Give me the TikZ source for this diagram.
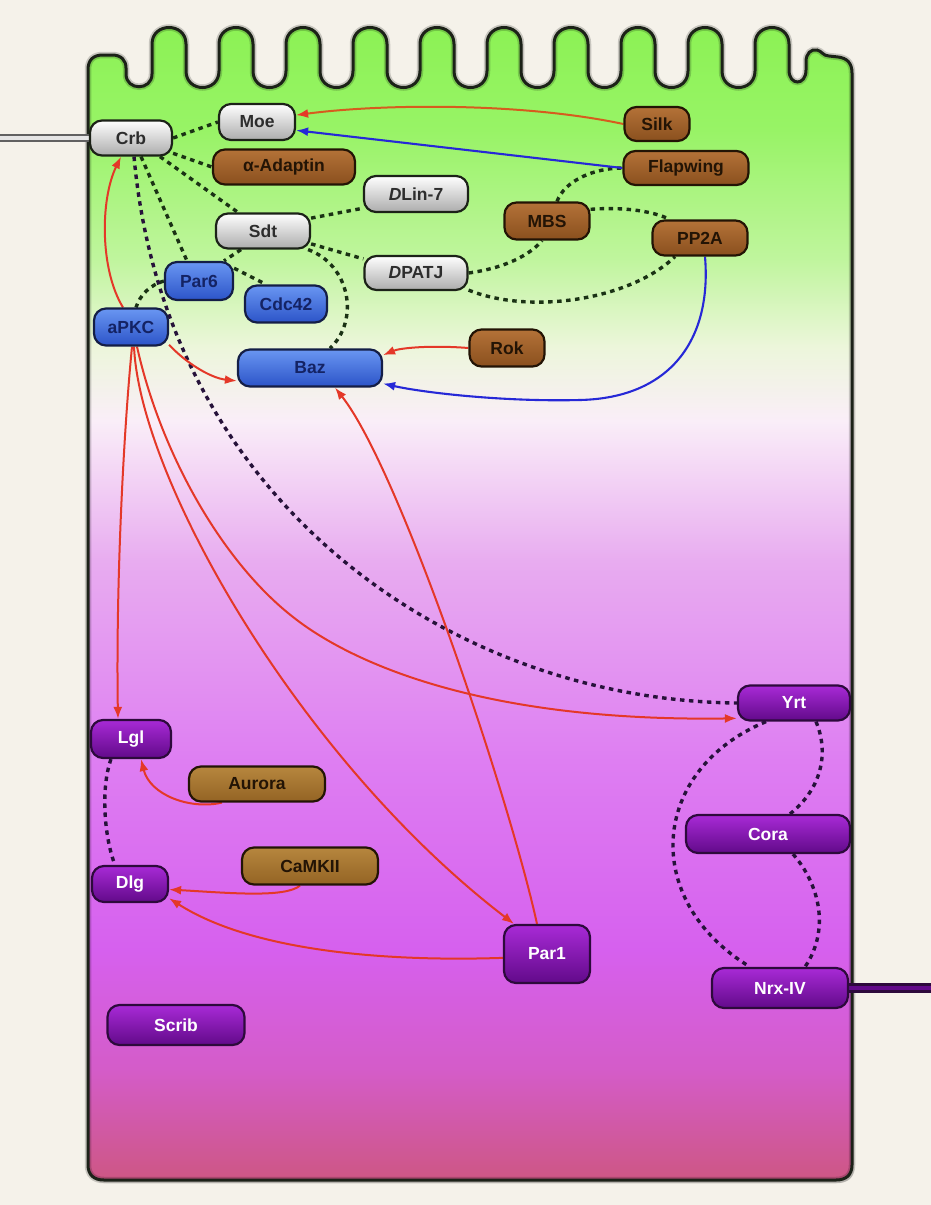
\documentclass[tikz,border=0pt]{standalone}
\usepackage{fontspec}
\setmainfont{Liberation Sans}
\usetikzlibrary{arrows.meta}
\pgfdeclarelayer{cell}
\pgfdeclarelayer{edges}
\pgfsetlayers{cell,edges,main}
\definecolor{bgc}{RGB}{245,242,234}
\definecolor{dg}{RGB}{26,50,20}
\definecolor{dp}{RGB}{38,18,58}
\definecolor{redc}{RGB}{228,56,40}
\definecolor{orc}{RGB}{214,92,30}
\definecolor{bluec}{RGB}{38,40,215}
\definecolor{outl}{RGB}{28,34,24}
\definecolor{wtop}{RGB}{255,255,255}
\definecolor{wbot}{RGB}{172,172,172}
\definecolor{wtxt}{RGB}{45,45,45}
\definecolor{brtop}{RGB}{180,114,56}
\definecolor{brbot}{RGB}{138,80,30}
\definecolor{brtxt}{RGB}{35,20,5}
\definecolor{gotop}{RGB}{182,134,62}
\definecolor{gobot}{RGB}{148,100,36}
\definecolor{bltop}{RGB}{105,150,242}
\definecolor{blbot}{RGB}{44,84,200}
\definecolor{bltxt}{RGB}{20,35,100}
\definecolor{bldraw}{RGB}{20,30,70}
\definecolor{putop}{RGB}{168,42,214}
\definecolor{pubot}{RGB}{98,10,138}
\definecolor{pudraw}{RGB}{45,10,60}
\definecolor{c1}{RGB}{138,242,82}
\definecolor{c2}{RGB}{152,243,102}
\definecolor{c3}{RGB}{192,245,158}
\definecolor{c4}{RGB}{236,246,218}
\definecolor{c5}{RGB}{250,238,248}
\definecolor{c6}{RGB}{232,172,240}
\definecolor{c7}{RGB}{222,126,242}
\definecolor{c8}{RGB}{214,96,238}
\definecolor{c9}{RGB}{212,92,200}
\definecolor{c10}{RGB}{205,86,126}
\newcommand\mycellpath{(88,1165) -- (88,70) .. controls (88,60) and (93,55) .. (103,55) -- (112,55) .. controls (121,55) and (126,60) .. (126,68) -- (126,74) .. controls (126,91) and (152,91) .. (152,74)
 \foreach \k in {0,...,8}{ -- ({152+67*\k},44) .. controls ({152+67*\k},22) and ({186+67*\k},22) .. ({186+67*\k},44) -- ({186+67*\k},71) .. controls ({186+67*\k},93) and ({219+67*\k},93) .. ({219+67*\k},71) }
 -- (755,44) .. controls (755,22) and (789,22) .. (789,44) -- (789,70) .. controls (789,86) and (806,86) .. (806,70) -- (806,62) .. controls (806,53) and (811,49) .. (817,50) .. controls (822,51) and (823,56) .. (829,56) -- (838,57) .. controls (847,58) and (852,63) .. (852,73) -- (852,1165) .. controls (852,1175) and (846,1180) .. (836,1180) -- (104,1180) .. controls (94,1180) and (88,1175) .. (88,1165) -- cycle}
\tikzset{
 prot/.style={rounded corners=12pt, line width=2.2pt, inner sep=0pt, font=\fontsize{17.5}{19}\selectfont\bfseries},
 wnode/.style={prot, draw=outl, top color=wtop, bottom color=wbot, text=wtxt},
 brnode/.style={prot, draw=brtxt, top color=brtop, bottom color=brbot, text=brtxt},
 gonode/.style={prot, draw=brtxt, top color=gotop, bottom color=gobot, text=brtxt},
 blnode/.style={prot, draw=bldraw, top color=bltop, bottom color=blbot, text=bltxt},
 punode/.style={prot, draw=pudraw, top color=putop, bottom color=pubot, text=white},
 dsh/.style={line width=3.4pt, dash pattern=on 4.5pt off 4.5pt, draw=dg},
 dshp/.style={line width=3.4pt, dash pattern=on 4.5pt off 4.5pt, draw=dp},
 ra/.style={line width=2pt, draw=redc, -{Latex[length=12pt,width=9pt]}},
 oa/.style={line width=2pt, draw=orc, -{Latex[length=12pt,width=9pt,color=redc]}},
 ba/.style={line width=2.1pt, draw=bluec, -{Latex[length=12pt,width=9pt]}}
}
\begin{document}
\begin{tikzpicture}[x=1pt,y=-1pt]
\useasboundingbox (0,0) rectangle (931,1205);
\begin{pgfonlayer}{cell}
\fill[bgc] (0,0) rectangle (931,1205);
\fill[black,opacity=0.10] [xshift=2pt,yshift=-3pt] \mycellpath;
\begin{scope}
\clip \mycellpath;
\shade[top color=c1,bottom color=c2] (80,10) rectangle (860,131);
\shade[top color=c2,bottom color=c3] (80,130) rectangle (860,261);
\shade[top color=c3,bottom color=c4] (80,260) rectangle (860,346);
\shade[top color=c4,bottom color=c5] (80,345) rectangle (860,421);
\shade[top color=c5,bottom color=c6] (80,420) rectangle (860,561);
\shade[top color=c6,bottom color=c7] (80,560) rectangle (860,761);
\shade[top color=c7,bottom color=c8] (80,760) rectangle (860,951);
\shade[top color=c8,bottom color=c9] (80,950) rectangle (860,1071);
\shade[top color=c9,bottom color=c10] (80,1070) rectangle (860,1190);
\end{scope}
\draw[black,opacity=0.18,line width=6.5pt] \mycellpath;
\draw[outl,line width=3pt] \mycellpath;
\end{pgfonlayer}

% nodes
\node[wnode, minimum width=82pt, minimum height=35pt] (crb) at (131,138) {Crb};
\node[wnode, minimum width=76pt, minimum height=36pt] (moe) at (257,122) {Moe};
\node[brnode, minimum width=142pt, minimum height=35pt] (adapt) at (284,167) {α-Adaptin};
\node[wnode, minimum width=104pt, minimum height=36pt] (dlin) at (416,194) {\textit{D}Lin-7};
\node[wnode, minimum width=94pt, minimum height=35pt] (sdt) at (263,231) {Sdt};
\node[wnode, minimum width=103pt, minimum height=34pt] (dpatj) at (416,273) {\textit{D}PATJ};
\node[blnode, minimum width=68pt, minimum height=38pt] (par6) at (199,281) {Par6};
\node[blnode, minimum width=82pt, minimum height=37pt] (cdc) at (286,304) {Cdc42};
\node[blnode, minimum width=74pt, minimum height=37pt] (apkc) at (131,327) {aPKC};
\node[blnode, minimum width=144pt, minimum height=37pt] (baz) at (310,368) {Baz};
\node[brnode, minimum width=75pt, minimum height=37pt] (rok) at (507,348) {Rok};
\node[brnode, minimum width=65pt, minimum height=34pt] (silk) at (657,124) {Silk};
\node[brnode, minimum width=125pt, minimum height=34pt] (flap) at (686,168) {Flapwing};
\node[brnode, minimum width=85pt, minimum height=37pt] (mbs) at (547,221) {MBS};
\node[brnode, minimum width=95pt, minimum height=35pt] (pp2a) at (700,238) {PP2A};
\node[punode, minimum width=112pt, minimum height=35pt] (yrt) at (794,703) {Yrt};
\node[punode, minimum width=164pt, minimum height=38pt] (cora) at (768,834) {Cora};
\node[punode, minimum width=136pt, minimum height=40pt] (nrx) at (780,988) {Nrx-IV};
\node[punode, minimum width=80pt, minimum height=38pt] (lgl) at (131,739) {Lgl};
\node[gonode, minimum width=136pt, minimum height=35pt] (aurora) at (257,784) {Aurora};
\node[gonode, minimum width=136pt, minimum height=37pt] (camk) at (310,866) {CaMKII};
\node[punode, minimum width=76pt, minimum height=36pt] (dlg) at (130,884) {Dlg};
\node[punode, minimum width=86pt, minimum height=58pt] (par1) at (547,954) {Par1};
\node[punode, minimum width=137pt, minimum height=40pt] (scrib) at (176,1025) {Scrib};
\coordinate (lb) at (0,138);
\coordinate (rb) at (931,988);

\begin{pgfonlayer}{edges}
% membrane links
\draw[draw=black!62, line width=2.4pt, double=black!10, double distance=4pt] (lb) -- (crb.west);
\draw[draw=pudraw, line width=2.6pt, double=pubot, double distance=4pt] (nrx.east) -- (rb);
% dashed interactions
\draw[dsh] (crb.east) -- (moe.west);
\draw[dsh] (crb.-20) -- (adapt.west);
\draw[dsh] ([xshift=29pt]crb.south) -- ([xshift=-25pt]sdt.north);
\draw[dsh] ([xshift=10pt]crb.south) -- ([xshift=-12pt]par6.north);
\draw[dsh] (par6.west) .. controls (150,285) and (140,295) .. ([xshift=5pt]apkc.north);
\draw[dsh] ([xshift=-22pt]sdt.south) -- ([xshift=25pt]par6.north);
\draw[dsh] (par6.20) -- ([xshift=-20pt]cdc.north);
\draw[dsh] ([xshift=-3pt]sdt.south east) .. controls (350,265) and (360,320) .. ([xshift=20pt]baz.north);
\draw[dsh] (sdt.15) -- (dlin.195);
\draw[dsh] (sdt.-15) -- (dpatj.165);
\draw[dsh] (dpatj.east) .. controls (505,268) and (530,255) .. ([xshift=-5pt]mbs.south);
\draw[dsh] (dpatj.-18) .. controls (530,315) and (630,300) .. ([xshift=-25pt]pp2a.south);
\draw[dsh] ([xshift=10pt]mbs.north) .. controls (565,180) and (595,168) .. (flap.west);
\draw[dsh] (mbs.15) .. controls (620,207) and (650,210) .. ([xshift=-30pt]pp2a.north);
\draw[dshp] ([xshift=3pt]crb.south) .. controls (165,500) and (450,700) .. (yrt.west);
\draw[dshp] ([xshift=-20pt]lgl.south) .. controls (100,790) and (105,840) .. ([xshift=-15pt]dlg.north);
\draw[dshp] ([xshift=22pt]yrt.south) .. controls (830,755) and (820,790) .. ([xshift=22pt]cora.north);
\draw[dshp] ([xshift=25pt]cora.south) .. controls (820,885) and (830,930) .. ([xshift=25pt]nrx.north);
\draw[dshp] ([xshift=-28pt]yrt.south) .. controls (650,770) and (640,900) .. ([xshift=-30pt]nrx.north);
% arrows top
\draw[oa] (silk.west) .. controls (520,102) and (380,104) .. (moe.10);
\draw[ba] (flap.west) -- (moe.-12);
\draw[ra] (rok.west) .. controls (430,345) and (400,348) .. (baz.10);
\draw[ba] ([xshift=5pt]pp2a.south) .. controls (712,340) and (670,398) .. (580,400) .. controls (500,402) and (420,392) .. (baz.-12);
% aPKC arrows
\draw[ra] ([xshift=-8pt]apkc.north) .. controls (100,270) and (100,200) .. ([xshift=-10pt]crb.south);
\draw[ra] (apkc.-25) .. controls (185,362) and (210,378) .. (baz.190);
\draw[ra] ([xshift=1pt]apkc.south) .. controls (122,450) and (116,600) .. ([xshift=-13pt]lgl.north);
\draw[ra] ([xshift=3pt]apkc.south) .. controls (140,480) and (300,760) .. ([xshift=-33pt]par1.north);
\draw[ra] ([xshift=6pt]apkc.south) .. controls (160,450) and (220,560) .. (293,617) .. controls (350,662) and (480,722) .. (yrt.195);
% lower arrows
\draw[ra] ([xshift=-10pt]par1.north) .. controls (510,800) and (400,470) .. ([xshift=25pt]baz.south);
\draw[ra] (par1.185) .. controls (380,962) and (250,950) .. (dlg.-20);
\draw[ra] ([xshift=-10pt]camk.south) .. controls (285,898) and (230,893) .. (dlg.-8);
\draw[ra] ([xshift=-35pt]aurora.south) .. controls (190,810) and (150,795) .. ([xshift=10pt]lgl.south);
\end{pgfonlayer}
\end{tikzpicture}
\end{document}
